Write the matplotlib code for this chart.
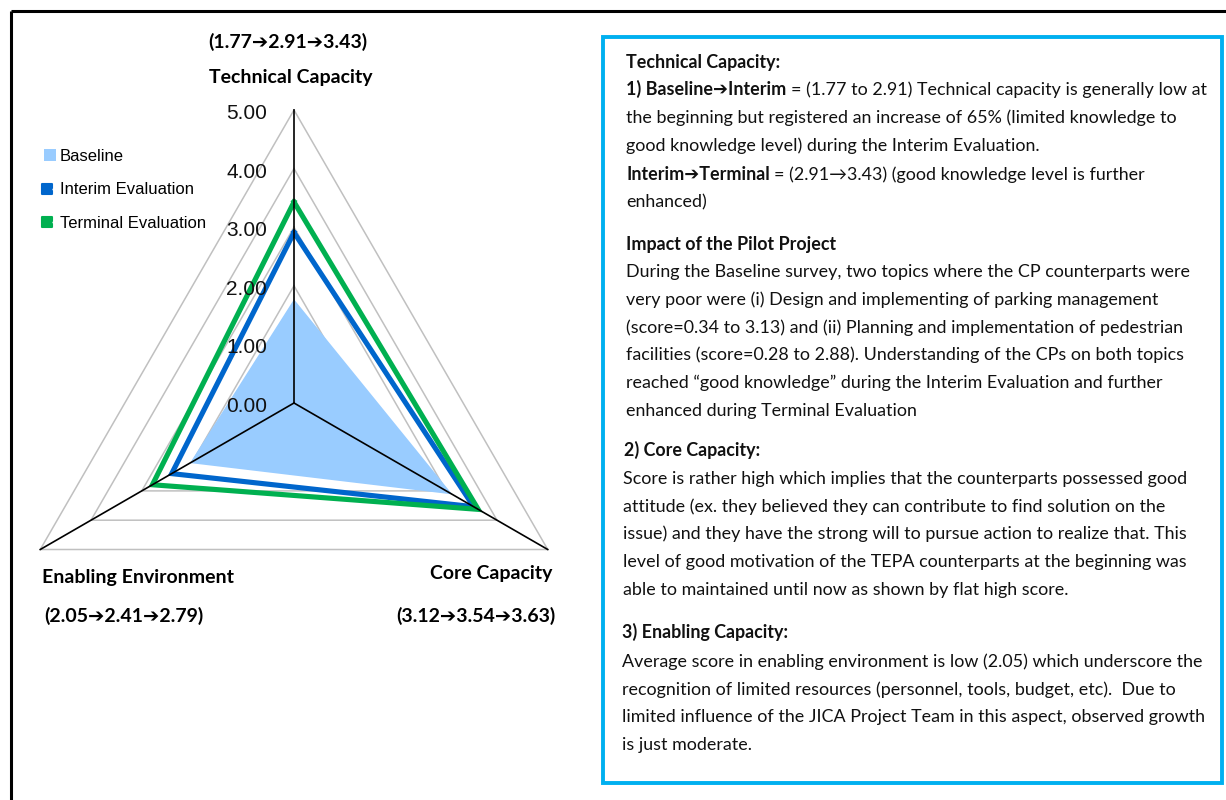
import numpy as np
import matplotlib
matplotlib.use("Agg")
import matplotlib.pyplot as plt
from matplotlib.patches import Patch, Rectangle
from matplotlib.lines import Line2D
from matplotlib.markers import MarkerStyle
from matplotlib.legend_handler import HandlerTuple

# ---- data -------------------------------------------------------------
categories = ["Technical Capacity", "Core Capacity", "Enabling Environment"]
baseline = [1.77, 3.12, 2.05]
interim = [2.91, 3.54, 2.41]
terminal = [3.43, 3.63, 2.79]
series_names = ["Baseline", "Interim Evaluation", "Terminal Evaluation"]
ring_values = [0, 1, 2, 3, 4, 5]

# ---- style ------------------------------------------------------------
C_BASE = "#99CCFF"
C_INTERIM = "#0066CC"
C_TERMINAL = "#00B050"
C_GRID = "#C0C0C0"
C_BOX = "#00B0F0"
TXT_FAM = ["Lato", "DejaVu Sans"]
NUM_FAM = ["Liberation Sans", "DejaVu Sans"]

W, H = 1226, 800
fig = plt.figure(figsize=(W / 100, H / 100), dpi=100)
fig.patch.set_facecolor("white")

# radar axes: centre of the web sits at pixel (294, 403), 58.6 px per score unit
CX, CY, PPU, AW = 294.0, 403.0, 58.6, 600.0
ax = fig.add_axes([0, 0, AW / W, 1])
ax.set_xlim(-CX / PPU, (AW - CX) / PPU)
ax.set_ylim(-(H - CY) / PPU, CY / PPU)
ax.axis("off")

# axes run clockwise from the top
angles = np.deg2rad([90, -30, 210])


def to_xy(values):
    v = np.asarray(values, dtype=float)
    x = v * np.cos(angles)
    y = v * np.sin(angles)
    return np.append(x, x[0]), np.append(y, y[0])


# triangular grid rings
for r in ring_values[1:]:
    gx, gy = to_xy([r] * 3)
    ax.plot(gx, gy, color=C_GRID, lw=1.1, zorder=1)

# series
bx, by = to_xy(baseline)
ax.fill(bx, by, color=C_BASE, lw=0, zorder=2)
ix, iy = to_xy(interim)
ax.plot(ix, iy, color=C_INTERIM, lw=3.7, solid_joinstyle="miter", zorder=3)
tx, ty = to_xy(terminal)
ax.plot(tx, ty, color=C_TERMINAL, lw=3.7, solid_joinstyle="miter", zorder=4)

# spokes
rmax = ring_values[-1]
for a in angles:
    ax.plot([0, rmax * np.cos(a)], [0, rmax * np.sin(a)], color="black", lw=1.2, zorder=5)

# value scale along the vertical spoke
for r in ring_values:
    ax.text(-0.46, r - 0.06, f"{r:.2f}", ha="right", va="center",
            fontsize=15, family=NUM_FAM, color="#111111", zorder=6)

# legend
h_base = Patch(facecolor=C_BASE, edgecolor="none")
sq = MarkerStyle("s", joinstyle="round")
h_int = (Line2D([], [], ls="none", marker=sq, ms=7, color=C_INTERIM, mew=1.5),
         Line2D([], [], ls="none", marker="o", ms=1.6, color="white", mew=0))
h_ter = (Line2D([], [], ls="none", marker=sq, ms=7, color=C_TERMINAL, mew=1.5),
         Line2D([], [], ls="none", marker="o", ms=1.6, color="white", mew=0))
fig.legend([h_base, h_int, h_ter], series_names,
           handler_map={tuple: HandlerTuple(ndivide=None, pad=0)},
           loc="upper left", bbox_to_anchor=(44 / W, 1 - 149 / H),
           frameon=False, borderpad=0, borderaxespad=0,
           handlelength=0.7, handleheight=0.7, handletextpad=0.25,
           labelspacing=1.1, prop={"family": NUM_FAM, "size": 12})

# ---- overlay in pixel coordinates -------------------------------------
ov = fig.add_axes([0, 0, 1, 1], zorder=-1)
ov.set_xlim(0, W)
ov.set_ylim(H, 0)
ov.axis("off")

# outer frame (top and left edges)
ov.plot([11, W], [11, 11], color="black", lw=2.2, solid_capstyle="butt")
ov.plot([11, 11], [11, H], color="black", lw=2.2, solid_capstyle="butt")

# axis captions with their score progressions
def progression(i):
    return f"({baseline[i]:.2f}➔{interim[i]:.2f}➔{terminal[i]:.2f})"


LBL = dict(fontsize=14, fontweight="bold", family=TXT_FAM, ha="center", va="center")
ov.text(288, 42, progression(0), **LBL)
ov.text(291, 77, categories[0], **LBL)
ov.text(491, 574, categories[1], **LBL)
ov.text(476, 616, progression(1), **LBL)
ov.text(138, 577, categories[2], **LBL)
ov.text(124, 616, progression(2), **LBL)

# commentary panel
ov.add_patch(Rectangle((603, 37), 619, 746, fill=False, edgecolor=C_BOX, lw=2.8))

renderer = fig.canvas.get_renderer()
BODY = 12.9


def text_width(s, weight):
    t = ov.text(0, 0, s, fontsize=BODY, fontweight=weight, family=TXT_FAM)
    w = t.get_window_extent(renderer=renderer).width
    t.remove()
    return w


def rich_line(x, y, segments):
    for s, weight in segments:
        if s.startswith(" "):
            n = len(s) - len(s.lstrip(" "))
            x += n * (text_width("a a", weight) - text_width("aa", weight))
            s = s.lstrip(" ")
        t = ov.text(x, y + 5, s, fontsize=BODY, fontweight=weight,
                    family=TXT_FAM, va="baseline", ha="left", color="#111111")
        x += t.get_window_extent(renderer=renderer).width


B, R = "bold", "normal"
panel = [
    (626, 63, [("Technical Capacity:", B)]),
    (626, 90, [("1) Baseline➔Interim", B),
               (" = (1.77 to 2.91) Technical capacity is generally low at", R)]),
    (626, 118, [("the beginning but registered an increase of 65% (limited knowledge to", R)]),
    (626, 146, [("good knowledge level) during the Interim Evaluation.", R)]),
    (626, 175, [("Interim➔Terminal", B), (" = (2.91→3.43) (good knowledge level is further", R)]),
    (626, 202, [("enhanced)", R)]),
    (626, 245, [("Impact of the Pilot Project", B)]),
    (626, 272, [("During the Baseline survey, two topics where the CP counterparts were", R)]),
    (626, 300, [("very poor were (i) Design and implementing of parking management", R)]),
    (626, 328, [("(score=0.34 to 3.13) and (ii) Planning and implementation of pedestrian", R)]),
    (626, 355, [("facilities (score=0.28 to 2.88). Understanding of the CPs on both topics", R)]),
    (626, 383, [("reached “good knowledge” during the Interim Evaluation and further", R)]),
    (626, 411, [("enhanced during Terminal Evaluation", R)]),
    (624, 451, [("2) Core Capacity:", B)]),
    (623, 479, [("Score is rather high which implies that the counterparts possessed good", R)]),
    (623, 507, [("attitude (ex. they believed they can contribute to find solution on the", R)]),
    (623, 534, [("issue) and they have the strong will to pursue action to realize that. This", R)]),
    (623, 562, [("level of good motivation of the TEPA counterparts at the beginning was", R)]),
    (623, 590, [("able to maintained until now as shown by flat high score.", R)]),
    (622, 633, [("3) Enabling Capacity:", B)]),
    (622, 662, [("Average score in enabling environment is low (2.05) which underscore the", R)]),
    (622, 690, [("recognition of limited resources (personnel, tools, budget, etc).  Due to", R)]),
    (622, 717, [("limited influence of the JICA Project Team in this aspect, observed growth", R)]),
    (622, 745, [("is just moderate.", R)]),
]
for x0, y0, segs in panel:
    rich_line(x0, y0, segs)

fig.savefig("out.png", dpi=100, facecolor="white")
